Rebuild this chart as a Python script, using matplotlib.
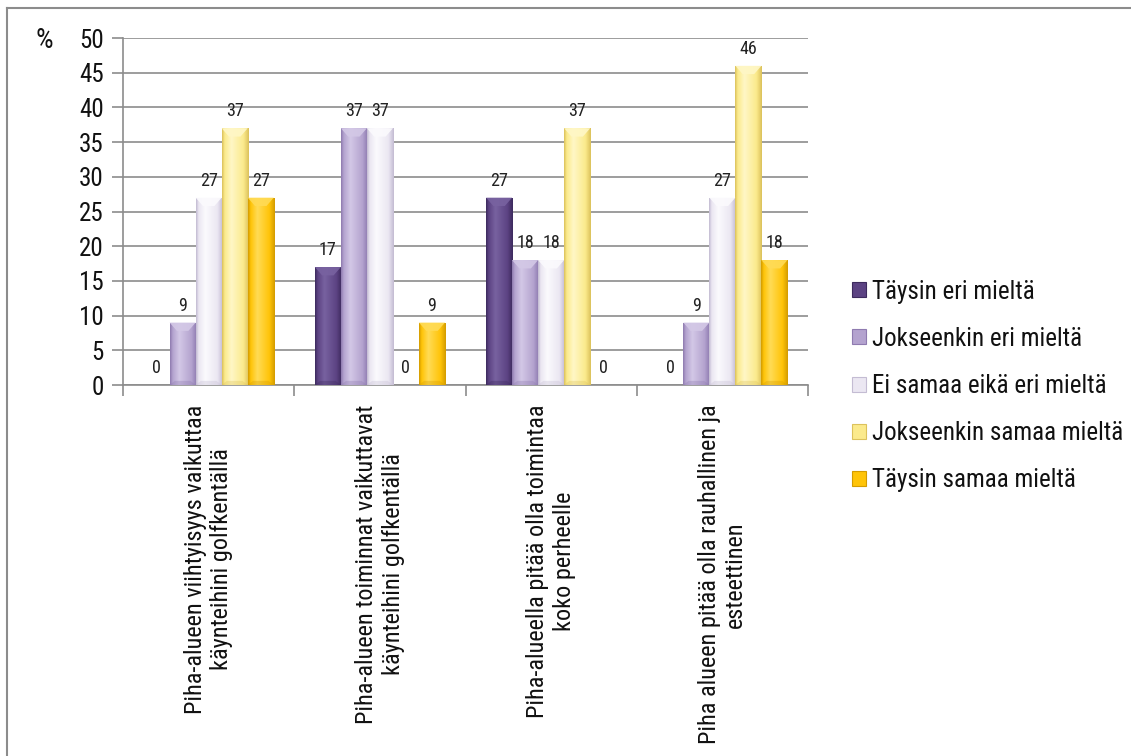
import numpy as np
import matplotlib
matplotlib.use("Agg")
import matplotlib.pyplot as plt
from matplotlib import font_manager
from matplotlib.colors import to_rgb
from matplotlib.patches import Patch, Polygon
from matplotlib.lines import Line2D

categories = [
    "Piha-alueen viihtyisyys vaikuttaa\nkäynteihini golfkentällä",
    "Piha-alueen toiminnat vaikuttavat\nkäynteihini golfkentällä",
    "Piha-alueella pitää olla toimintaa\nkoko perheelle",
    "Piha alueen pitää olla rauhallinen ja\nesteettinen",
]
series = [
    "Täysin eri mieltä",
    "Jokseenkin eri mieltä",
    "Ei samaa eikä eri mieltä",
    "Jokseenkin samaa mieltä",
    "Täysin samaa mieltä",
]
taysin_eri = [0, 17, 27, 0]
jokseenkin_eri = [9, 37, 18, 9]
ei_samaa_eika_eri = [27, 37, 18, 27]
jokseenkin_samaa = [37, 0, 37, 46]
taysin_samaa = [27, 9, 0, 18]
values = [taysin_eri, jokseenkin_eri, ei_samaa_eika_eri, jokseenkin_samaa, taysin_samaa]

# (dark edge, base, highlight) for each series
palette = [
    ("#3d2a5e", "#5c4383", "#7862a0"),
    ("#8f7bb0", "#b4a3cf", "#d3c8e6"),
    ("#c4bcd3", "#ebe7f2", "#fbfafd"),
    ("#dcc25c", "#fbea8c", "#fff7c6"),
    ("#d49c00", "#ffc408", "#ffdb55"),
]

# a narrow sans if one is around
names = {f.name for f in font_manager.fontManager.ttflist}
narrow = ["Arial Narrow", "Liberation Sans Narrow", "Nimbus Sans Narrow", "Roboto Condensed",
          "Archivo Narrow", "PT Sans Narrow", "IBM Plex Sans Condensed"]
font = next((n for n in narrow if n in names), "Liberation Sans")
plt.rcParams["font.family"] = [font, "DejaVu Sans"]

fig = plt.figure(figsize=(11.31, 7.56), dpi=100)
ax = fig.add_axes([0.1088, 0.4907, 0.6056, 0.459])

x = np.arange(len(categories))
width = 0.152


def gradient_row(dark, base, light):
    stops = [0.0, 0.1, 0.35, 0.8, 1.0]
    cols = np.array([to_rgb(dark), to_rgb(base), to_rgb(light), to_rgb(base), to_rgb(dark)])
    t = np.linspace(0, 1, 64)
    row = np.stack([np.interp(t, stops, cols[:, k]) for k in range(3)], axis=-1)
    return row[np.newaxis, :, :]


for i, (vals, (dark, base, light)) in enumerate(zip(values, palette)):
    xs = x - 2 * width + i * width
    bars = ax.bar(xs, vals, width=width, color=base, zorder=3, label=series[i],
                  edgecolor="none")
    grad = gradient_row(dark, base, light)
    for b, v in zip(bars, vals):
        x0 = b.get_x()
        if v > 0:
            im = ax.imshow(grad, extent=[x0, x0 + width, 0, v], aspect="auto",
                           interpolation="bilinear", zorder=3.1)
            im.set_clip_path(b)
            cap = 1.2
            ax.add_patch(Polygon([[x0, v], [x0 + width, v],
                                  [x0 + width * 0.72, v - cap], [x0 + width * 0.28, v - cap]],
                                 closed=True, facecolor=light, edgecolor="none",
                                 alpha=0.9, zorder=3.2))
            ax.add_patch(Polygon([[x0, 0], [x0 + width, 0],
                                  [x0 + width * 0.8, 0.6], [x0 + width * 0.2, 0.6]],
                                 closed=True, facecolor=dark, edgecolor="none",
                                 alpha=0.35, zorder=3.2))
        ax.annotate(f"{v}", (x0 + width / 2, v), xytext=(0, 8),
                    textcoords="offset pixels", ha="center", va="bottom",
                    fontsize=13, color="#222222", zorder=4)

ax.set_xlim(-0.5, len(categories) - 0.5)
ax.set_ylim(0, 50)
ax.set_yticks(np.arange(0, 51, 5))
ax.yaxis.grid(True, color="#8c8c8c", linewidth=1.2, zorder=0)
ax.set_axisbelow(True)

ax.set_xticks(np.arange(len(categories) + 1) - 0.5, minor=False)
ax.set_xticklabels([])
ax.set_xticks(x, minor=True)
ax.set_xticklabels(categories, minor=True, rotation=90, ha="center", va="top",
                   multialignment="center", fontsize=17.5, color="#111111")
ax.tick_params(axis="x", which="minor", length=0, pad=14)
ax.tick_params(axis="x", which="major", length=8, width=1.2, color="#8c8c8c")
ax.tick_params(axis="y", length=8, width=1.2, color="#8c8c8c", labelsize=18, pad=6,
               labelcolor="#111111")

for side in ["top", "right"]:
    ax.spines[side].set_visible(False)
for side in ["left", "bottom"]:
    ax.spines[side].set_color("#8c8c8c")
    ax.spines[side].set_linewidth(1.2)

fig.text(44 / 1131, 1 - 41 / 756, "%", fontsize=20, ha="center", va="center", color="#111111")

handles = [Patch(facecolor=c[1], edgecolor=c[0], linewidth=0.8) for c in palette]
fig.legend(handles, series, loc="center left", bbox_to_anchor=(842 / 1131, 1 - 386 / 756),
           frameon=False, fontsize=18, handlelength=0.55, handleheight=0.55,
           handletextpad=0.25, labelspacing=0.93, borderaxespad=0,
           labelcolor="#111111")

# outer frame: top and left edges only
fig.add_artist(Line2D([7 / 1131, 1.0], [1 - 8 / 756, 1 - 8 / 756], transform=fig.transFigure,
                      color="#8c8c8c", linewidth=1.5))
fig.add_artist(Line2D([7 / 1131, 7 / 1131], [0.0, 1 - 8 / 756], transform=fig.transFigure,
                      color="#8c8c8c", linewidth=1.5))

fig.savefig("out.png", dpi=100)
